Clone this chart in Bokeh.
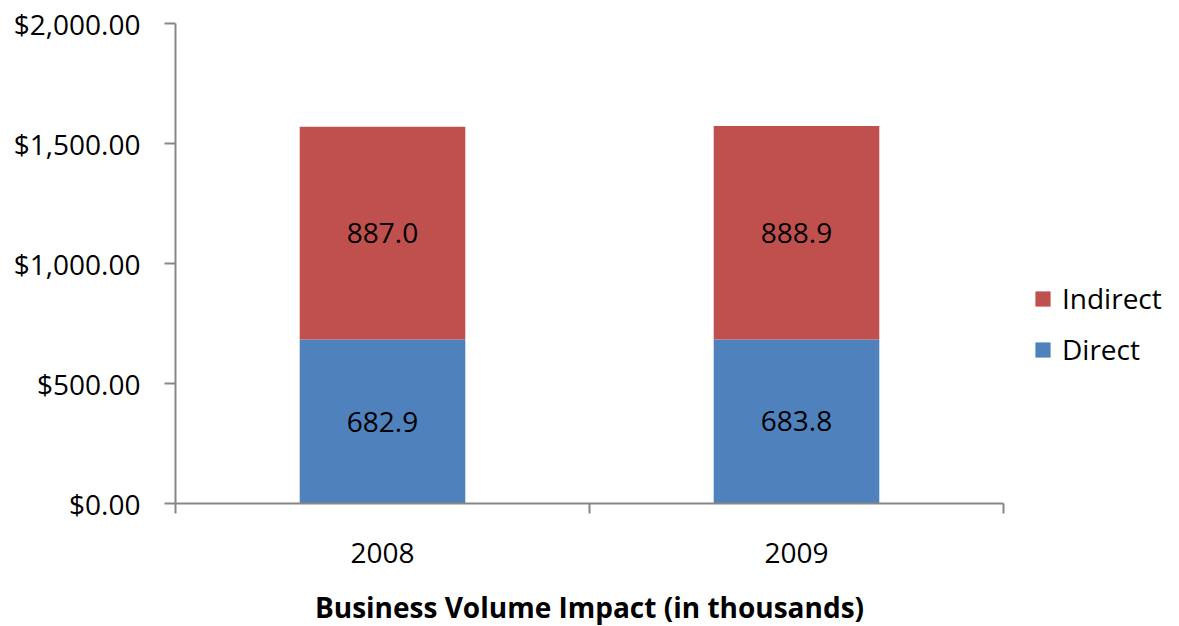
from bokeh.plotting import figure
from bokeh.models import (ColumnDataSource, FixedTicker, NumeralTickFormatter,
                          Range1d, Legend, LegendItem, LabelSet)
from bokeh.core.properties import value
from bokeh.embed import file_html
from bokeh.resources import INLINE

years = ["2008", "2009"]
direct = [682.9, 683.8]
indirect = [887.0, 888.9]
y_ticks = [0, 500, 1000, 1500, 2000]

FONT = "Open Sans"
FS = "28px"
AXIS_COLOR = "#868686"
BLUE = "#4F81BD"
RED = "#C0504D"

xs = [i + 0.5 for i in range(len(years))]
source = ColumnDataSource(dict(
    x=xs, direct=direct, indirect=indirect,
    d_mid=[d / 2 for d in direct],
    i_mid=[d + v / 2 for d, v in zip(direct, indirect)],
    d_txt=[f"{v:.1f}" for v in direct],
    i_txt=[f"{v:.1f}" for v in indirect],
))

p = figure(frame_width=828, frame_height=480, output_backend="svg",
           toolbar_location=None, x_range=Range1d(0, len(years)),
           y_range=Range1d(0, 2000), min_border_left=175, min_border_top=23,
           min_border_right=0, min_border_bottom=0)
p.outline_line_color = None
p.grid.visible = False

r = p.vbar_stack(["direct", "indirect"], x="x", width=0.4, source=source,
                 color=[BLUE, RED], line_color=None)

for col, ycol in (("d_txt", "d_mid"), ("i_txt", "i_mid")):
    p.add_layout(LabelSet(x="x", y=ycol, text=col, source=source,
                          text_align="center", text_baseline="middle",
                          text_font=value(FONT), text_font_size=value(FS),
                          text_color="black"))

# y axis
ya = p.yaxis[0]
ya.ticker = FixedTicker(ticks=y_ticks)
ya.formatter = NumeralTickFormatter(format="$0,0.00")
ya.axis_line_color = AXIS_COLOR
ya.axis_line_width = 2
ya.major_tick_line_color = AXIS_COLOR
ya.major_tick_line_width = 2
ya.major_tick_out = 11
ya.major_tick_in = 0
ya.minor_tick_line_color = None
ya.major_label_standoff = 24
ya.major_label_text_font = FONT
ya.major_label_text_font_size = FS
ya.major_label_text_color = "black"

# x axis
xa = p.xaxis[0]
xa.ticker = FixedTicker(ticks=xs, minor_ticks=list(range(len(years) + 1)))
xa.major_label_overrides = {x: y for x, y in zip(xs, years)}
xa.axis_line_color = AXIS_COLOR
xa.axis_line_width = 2
xa.major_tick_line_color = None
xa.major_tick_out = 0
xa.major_tick_in = 0
xa.minor_tick_line_color = AXIS_COLOR
xa.minor_tick_line_width = 2
xa.minor_tick_out = 10
xa.minor_tick_in = 0
xa.major_label_standoff = 29
xa.major_label_text_font = FONT
xa.major_label_text_font_size = FS
xa.major_label_text_color = "black"
xa.axis_label = "Business Volume Impact (in thousands)"
xa.axis_label_text_font = FONT
xa.axis_label_text_font_style = "bold"
xa.axis_label_text_font_size = FS
xa.axis_label_text_color = "black"
xa.axis_label_standoff = 22

legend = Legend(items=[LegendItem(label="Indirect", renderers=[r[1]]),
                       LegendItem(label="Direct", renderers=[r[0]])],
                location=(30, 135))
legend.border_line_color = None
legend.background_fill_alpha = 0
legend.margin = 25
legend.padding = 8
legend.glyph_width = 19
legend.glyph_height = 19
legend.label_standoff = 10
legend.spacing = 13
legend.label_text_font = FONT
legend.label_text_font_size = FS
legend.label_text_color = "black"
p.add_layout(legend, "right")

open("out.html", "w").write(file_html(p, INLINE))
